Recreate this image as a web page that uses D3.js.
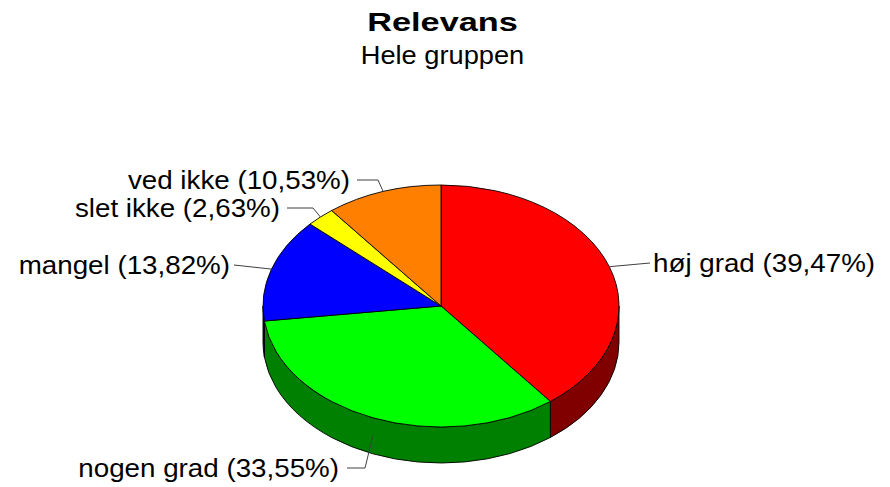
<!DOCTYPE html>
<html>
<head>
<meta charset="utf-8">
<script src="https://cdn.jsdelivr.net/npm/d3@7"></script>
<style>
  html, body { margin: 0; padding: 0; background: #fff; }
  svg text { font-family: "Liberation Sans", Arial, sans-serif; fill: #000; }
</style>
</head>
<body>
<svg id="chart" width="890" height="487"></svg>
<script>
// Chart values.
var categories = ['høj grad', 'nogen grad', 'mangel', 'slet ikke', 'ved ikke'];
var percents = [39.47, 33.55, 13.82, 2.63, 10.53];
var topColors = ['#ff0000', '#00ff00', '#0000ff', '#ffff00', '#ff8000'];
var sideColors = ['#800000', '#008000', '#000080', '#808000', '#804000'];
var title = 'Relevans';
var subtitle = 'Hele gruppen';

// Layout of the 3D pie and the label leaders (not data).
var cx = 441, cy = 306, rx = 178, ry = 121, depth = 36;
var labelLayout = [
  { ex: 650, ey: 263, tail: 0,  side: 'right', gap: 3 },
  { ex: 365, ey: 468, tail: 18, side: 'left',  gap: 8 },
  { ex: 234, ey: 265, tail: 0,  side: 'left',  gap: 4 },
  { ex: 313, ey: 208, tail: 26, side: 'left',  gap: 7 },
  { ex: 378, ey: 180, tail: 21, side: 'left',  gap: 7 }
];

var svg = d3.select('#chart');
var locale = d3.formatLocale({ decimal: ',', thousands: '.', grouping: [3], currency: ['', ''] });
var fmt = locale.format('.2f');

// Project an angle (clockwise from 12 o'clock) onto the tilted ellipse.
function proj(a, z) {
  return [cx + rx * Math.sin(a), cy - ry * Math.cos(a) + (z || 0)];
}

var pie = d3.pie().sort(null).value(function(d) { return d; });
var arcs = pie(percents);

// Side walls first, only the part facing the viewer.
var sides = svg.append('g').attr('class', 'sides');
arcs.forEach(function(d, i) {
  var s = Math.max(d.startAngle, Math.PI / 2);
  var e = Math.min(d.endAngle, Math.PI * 3 / 2);
  if (s >= e) return;
  var p0 = proj(s, 0), p1 = proj(e, 0), p2 = proj(e, depth), p3 = proj(s, depth);
  var large = (e - s) > Math.PI ? 1 : 0;
  var path = 'M' + p0 + 'A' + rx + ',' + ry + ' 0 ' + large + ' 1 ' + p1 +
    'L' + p2 + 'A' + rx + ',' + ry + ' 0 ' + large + ' 0 ' + p3 + 'Z';
  sides.append('path')
    .attr('d', path)
    .attr('fill', sideColors[i])
    .attr('stroke', '#000')
    .attr('stroke-width', 0.9)
    .attr('stroke-linejoin', 'round');
});

// Top faces.
var tops = svg.append('g').attr('class', 'tops');
arcs.forEach(function(d, i) {
  var p0 = proj(d.startAngle, 0), p1 = proj(d.endAngle, 0);
  var large = (d.endAngle - d.startAngle) > Math.PI ? 1 : 0;
  var path = 'M' + cx + ',' + cy + 'L' + p0 +
    'A' + rx + ',' + ry + ' 0 ' + large + ' 1 ' + p1 + 'Z';
  tops.append('path')
    .attr('d', path)
    .attr('fill', topColors[i])
    .attr('stroke', '#000')
    .attr('stroke-width', 0.9)
    .attr('stroke-linejoin', 'round');
});

// Labels with leader lines, attached at each slice's middle angle.
var labels = svg.append('g').attr('class', 'labels');
arcs.forEach(function(d, i) {
  var mid = (d.startAngle + d.endAngle) / 2;
  var front = Math.cos(mid) < -0.5;
  var a = proj(mid, front ? depth / 2 : 0);
  var L = labelLayout[i];
  var dir = L.side === 'right' ? 1 : -1;
  var tx = L.ex + dir * L.tail;
  labels.append('polyline')
    .attr('points', [a, [L.ex, L.ey], [tx, L.ey]].join(' '))
    .attr('fill', 'none')
    .attr('stroke', '#404040')
    .attr('stroke-width', 1);
  labels.append('text')
    .attr('transform', 'translate(' + (tx + dir * L.gap) + ',' + (L.ey + 9) + ') scale(1.11,1)')
    .attr('text-anchor', L.side === 'right' ? 'start' : 'end')
    .attr('font-size', 25)
    .text(categories[i] + ' (' + fmt(percents[i]) + '%)');
});

// Title and subtitle.
svg.append('text')
  .attr('transform', 'translate(442.5,31) scale(1.32,1)')
  .attr('text-anchor', 'middle')
  .attr('font-size', 26)
  .attr('font-weight', 'bold')
  .text(title);
svg.append('text')
  .attr('transform', 'translate(442.5,64) scale(1.09,1)')
  .attr('text-anchor', 'middle')
  .attr('font-size', 25)
  .text(subtitle);
</script>
</body>
</html>
